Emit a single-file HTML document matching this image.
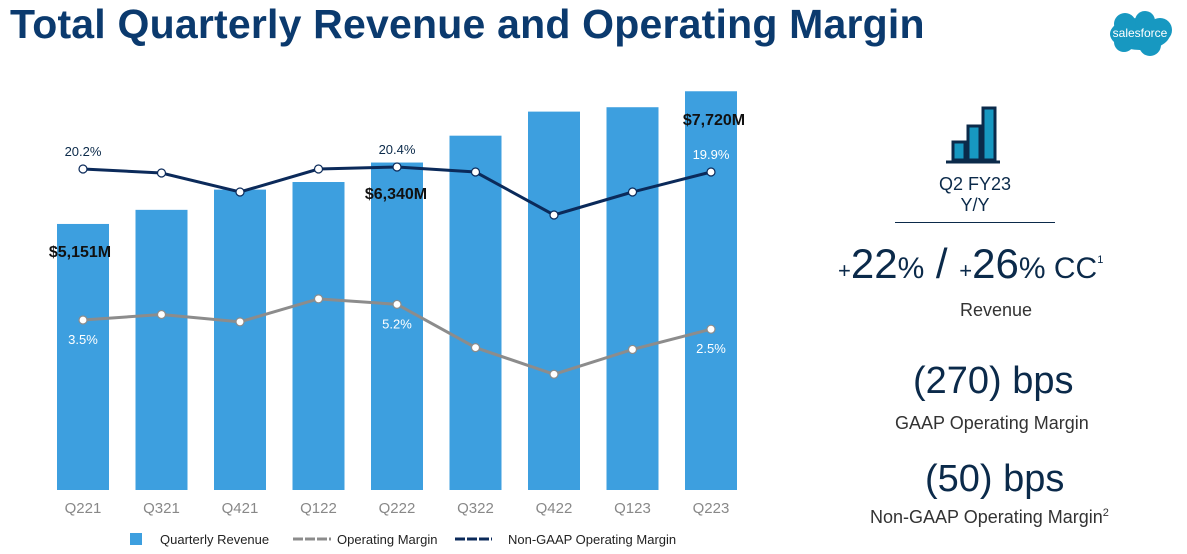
<!DOCTYPE html>
<html><head><meta charset="utf-8"><style>
body{margin:0;width:1187px;height:554px;background:#fff;font-family:"Liberation Sans",sans-serif;overflow:hidden;position:relative}
.t{position:absolute;white-space:nowrap}
</style></head><body>
<div class="t" style="left:10px;top:1px;font-size:41px;font-weight:bold;color:#0b3a6e;letter-spacing:0.2px">Total Quarterly Revenue and Operating Margin</div>
<svg style="position:absolute;left:1100px;top:10px" width="80" height="48">
<g fill="#1798c1"><ellipse cx="40" cy="24" rx="30" ry="16"/><circle cx="25" cy="14" r="11"/><circle cx="45" cy="11" r="10"/><circle cx="60" cy="20" r="12"/><circle cx="24" cy="32" r="10"/><circle cx="50" cy="35" r="11"/></g>
<text x="40" y="27" fill="#fff" font-size="12" text-anchor="middle" font-family="Liberation Sans">salesforce</text></svg>
<svg id="chart" style="position:absolute;left:0;top:0" width="800" height="554"></svg>
<svg style="position:absolute;left:940px;top:100px" width="65" height="65">
<line x1="6" y1="62" x2="60" y2="62" stroke="#0b2a4a" stroke-width="3"/>
<rect x="13" y="42" width="12" height="18" fill="#1798c1" stroke="#0b2a4a" stroke-width="3"/>
<rect x="28" y="26" width="12" height="34" fill="#1798c1" stroke="#0b2a4a" stroke-width="3"/>
<rect x="43" y="8" width="12" height="52" fill="#1798c1" stroke="#0b2a4a" stroke-width="3"/></svg>
<div class="t" style="left:900px;top:174px;width:150px;text-align:center;font-size:18px;color:#0b2a4a;line-height:21px">Q2 FY23<br>Y/Y</div>
<div style="position:absolute;left:895px;top:222px;width:160px;height:1px;background:#0b2a4a"></div>
<div class="t" style="left:838px;top:240px;color:#0b2a4a;font-size:42px"><span style="font-size:22px">+</span>22<span style="font-size:30px">%</span> / <span style="font-size:22px">+</span>26<span style="font-size:30px">% CC</span><sup style="font-size:11px">1</sup></div>
<div class="t" style="left:960px;top:300px;font-size:18px;color:#333">Revenue</div>
<div class="t" style="left:913px;top:360px;font-size:38px;color:#0b2a4a">(270) bps</div>
<div class="t" style="left:895px;top:413px;font-size:18px;color:#333">GAAP Operating Margin</div>
<div class="t" style="left:925px;top:458px;font-size:38px;color:#0b2a4a">(50) bps</div>
<div class="t" style="left:870px;top:507px;font-size:18px;color:#333">Non-GAAP Operating Margin<sup style="font-size:11px">2</sup></div>
<script>
const categories=["Q221","Q321","Q421","Q122","Q222","Q322","Q422","Q123","Q223"];
const revenue=[5151,5424,5816,5963,6340,6860,7326,7411,7720];
const gaapMargin=[3.5,4.1,3.3,5.8,5.2,0.5,-2.4,0.3,2.5];
const nonGaapMargin=[20.2,19.8,17.9,20.2,20.4,19.9,15.6,17.9,19.9];
const revLabels={0:"$5,151M",4:"$6,340M",8:"$7,720M"};
const gLabels={0:"3.5%",4:"5.2%",8:"2.5%"};
const nLabels={0:"20.2%",4:"20.4%",8:"19.9%"};
const svg=document.getElementById('chart');const NS="http://www.w3.org/2000/svg";
const xc=i=>83+i*78.5, yRev=v=>490-v*0.05165, yG=v=>320-(v-3.5)*9.2, yN=v=>169-(v-20.2)*10;
function mk(t,a,txt){const e=document.createElementNS(NS,t);for(const k in a)e.setAttribute(k,a[k]);if(txt!=null)e.textContent=txt;svg.appendChild(e);return e;}
categories.forEach((c,i)=>{
 const b=mk('rect',{x:xc(i)-26,y:yRev(revenue[i]),width:52,height:490-yRev(revenue[i]),fill:'#3d9fdf'});
 
 
 const t=mk('text',{x:xc(i),y:513,'text-anchor':'middle','font-size':15,fill:'#888'},c);
 
 
});
function line(vals,f,col,name){
 const p=mk('polyline',{points:vals.map((v,i)=>xc(i)+','+f(v)).join(' '),fill:'none',stroke:col,'stroke-width':3});
 
 
 vals.forEach((v,i)=>{const c=mk('circle',{cx:xc(i),cy:f(v),r:4,fill:'#fff',stroke:col,'stroke-width':1.2});
 
 });
}
line(gaapMargin,yG,'#8c8c8c','operating-margin-line');
line(nonGaapMargin,yN,'#0b2a5a','non-gaap-margin-line');
for(const i in gLabels){const t=mk('text',{x:xc(+i),y:yG(gaapMargin[i])+24,'text-anchor':'middle','font-size':13,fill:'#fff'},gLabels[i]);
 
 }
for(const i in nLabels){const t=mk('text',{x:xc(+i),y:yN(nonGaapMargin[i])-13,'text-anchor':'middle','font-size':13,fill:i==8?'#fff':'#0b2a4a'},nLabels[i]);
 
 }
const rpos={0:[80,257],4:[396,199],8:[714,125]};
for(const i in revLabels){const t=mk('text',{x:rpos[i][0],y:rpos[i][1],'text-anchor':'middle','font-size':16,'font-weight':'bold',fill:'#111'},revLabels[i]);
 
 }
// legend
let g=mk('rect',{x:130,y:533,width:12,height:12,fill:'#3d9fdf'});
mk('text',{x:160,y:544,'font-size':13,fill:'#222'},'Quarterly Revenue');
mk('line',{x1:293,y1:539,x2:331,y2:539,stroke:'#8c8c8c','stroke-width':3,'stroke-dasharray':'10,2'});
mk('text',{x:337,y:544,'font-size':13,fill:'#222'},'Operating Margin');
mk('line',{x1:455,y1:539,x2:492,y2:539,stroke:'#0b2a5a','stroke-width':3,'stroke-dasharray':'10,2'});
mk('text',{x:508,y:544,'font-size':13,fill:'#222'},'Non-GAAP Operating Margin');
</script>
</body></html>
